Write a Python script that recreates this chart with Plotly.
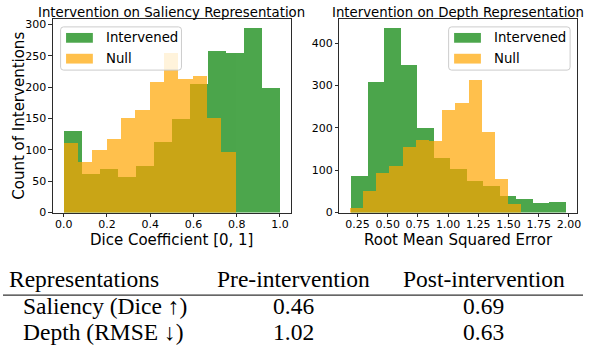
import numpy as np
import plotly.graph_objects as go

# Saliency (Dice coefficient) histograms, 12 equal-width bins per series
sal_intervened_counts = [130, 61, 69, 57, 74, 113, 149, 205, 257, 254, 294, 199]
sal_intervened_range = (0.0, 1.0)
sal_null_counts = [111, 81, 100, 117, 150, 164, 208, 255, 213, 218, 151, 96]
sal_null_range = (0.0, 0.795)

# Depth (RMSE) histograms, 13 equal-width bins per series
dep_intervened_counts = [86, 309, 435, 349, 200, 129, 103, 74, 63, 40, 31, 23, 26]
dep_intervened_range = (0.20, 1.975)
dep_null_counts = [11, 51, 93, 110, 155, 172, 169, 243, 258, 312, 191, 80, 21]
dep_null_range = (0.19, 1.61)

series_names = ["Intervened", "Null"]
series_colors = ["#008000", "#FFA500"]
series_rgba = ["rgba(0,128,0,0.7)", "rgba(255,165,0,0.7)"]

sal_xticks = [0.0, 0.2, 0.4, 0.6, 0.8, 1.0]
sal_yticks = [0, 50, 100, 150, 200, 250, 300]
dep_xticks = [0.25, 0.50, 0.75, 1.00, 1.25, 1.50, 1.75, 2.00]
dep_yticks = [0, 100, 200, 300, 400]

titles = ["Intervention on Saliency Representation", "Intervention on Depth Representation"]
xlabels = ["Dice Coefficient [0, 1]", "Root Mean Squared Error"]
ylabel = "Count of Interventions"

table_header = ["Representations", "Pre-intervention", "Post-intervention"]
table_rows = [
    ["Saliency (Dice \u2191)", "0.46", "0.69"],
    ["Depth (RMSE \u2193)", "1.02", "0.63"],
]

W, H = 589, 354
SANS = "DejaVu Sans"
SERIF = "'Liberation Serif', 'Times New Roman', Times, serif"
FRAME = "#2b2b2b"


def fx(p):
    return p / W


def fy(p):
    return 1 - p / H


def hist_bars(counts, rng, color, name, xa, ya):
    edges = np.linspace(rng[0], rng[1], len(counts) + 1)
    centers = (edges[:-1] + edges[1:]) / 2
    widths = np.diff(edges)
    return go.Bar(x=centers, y=counts, width=widths, marker=dict(color=color, line=dict(width=0)),
                  opacity=0.7, name=name, xaxis=xa, yaxis=ya, showlegend=False)


def padded(ranges, frac=0.05):
    lo = min(r[0] for r in ranges)
    hi = max(r[1] for r in ranges)
    pad = (hi - lo) * frac
    return [lo - pad, hi + pad]


fig = go.Figure()
panels = [
    (sal_intervened_counts, sal_intervened_range, sal_null_counts, sal_null_range, "x", "y"),
    (dep_intervened_counts, dep_intervened_range, dep_null_counts, dep_null_range, "x2", "y2"),
]
for gc, gr, nc, nr, xa, ya in panels:
    fig.add_trace(hist_bars(gc, gr, series_colors[0], series_names[0], xa, ya))
    fig.add_trace(hist_bars(nc, nr, series_colors[1], series_names[1], xa, ya))

# axes frame geometry (pixels)
ax_left = [(53.3, 292.7), (341.7, 580.7)]
ax_top, ax_bottom = 18.5, 216.5

axis_common = dict(showline=True, mirror=True, linecolor=FRAME, linewidth=1,
                   ticks="outside", ticklen=3.5, tickwidth=1, tickcolor=FRAME,
                   tickfont=dict(family=SANS, size=11, color="black"),
                   showgrid=False, zeroline=False)

ydom = [fy(ax_bottom), fy(ax_top)]
fig.update_layout(
    xaxis=dict(domain=[fx(ax_left[0][0]), fx(ax_left[0][1])],
               range=padded([sal_intervened_range, sal_null_range]),
               tickvals=sal_xticks, tickformat=".1f", anchor="y", ticklabelstandoff=-2,
               **axis_common),
    yaxis=dict(domain=ydom, range=[0, max(sal_intervened_counts + sal_null_counts) * 1.05],
               tickvals=sal_yticks, anchor="x", **axis_common),
    xaxis2=dict(domain=[fx(ax_left[1][0]), fx(ax_left[1][1])],
                range=padded([dep_intervened_range, dep_null_range]),
                tickvals=dep_xticks, tickformat=".2f", anchor="y2", ticklabelstandoff=-2,
                **axis_common),
    yaxis2=dict(domain=ydom, range=[0, max(dep_intervened_counts + dep_null_counts) * 1.05],
                tickvals=dep_yticks, anchor="x2", **axis_common),
    barmode="overlay",
    bargap=0,
    width=W, height=H,
    margin=dict(l=0, r=0, t=0, b=0),
    paper_bgcolor="white",
    plot_bgcolor="white",
    showlegend=False,
)

annotations = []
shapes = []

# titles and axis labels
for i, (l, r) in enumerate(ax_left):
    cx = (l + r) / 2
    annotations.append(dict(text=titles[i], x=fx(cx), y=fy(11.5), xref="paper", yref="paper",
                            xanchor="center", yanchor="middle", showarrow=False,
                            font=dict(family=SANS, size=13.3, color="black")))
    annotations.append(dict(text=xlabels[i], x=fx(cx), y=fy(244.5), xref="paper", yref="paper",
                            xanchor="center", yanchor="middle", showarrow=False, borderpad=0,
                            font=dict(family=SANS, size=15, color="black")))
annotations.append(dict(text=ylabel, x=fx(19), y=fy((ax_top + ax_bottom) / 2), xref="paper",
                        yref="paper", xanchor="center", yanchor="middle", showarrow=False,
                        textangle=-90, font=dict(family=SANS, size=15, color="black")))


def rounded_rect(x0, y0, x1, y1, r):
    X0, X1 = fx(x0), fx(x1)
    Y0, Y1 = fy(y0), fy(y1)
    rx, ry = r / W, r / H
    return (f"M {X0 + rx},{Y0} L {X1 - rx},{Y0} Q {X1},{Y0} {X1},{Y0 - ry} "
            f"L {X1},{Y1 + ry} Q {X1},{Y1} {X1 - rx},{Y1} L {X0 + rx},{Y1} "
            f"Q {X0},{Y1} {X0},{Y1 + ry} L {X0},{Y0 - ry} Q {X0},{Y0} {X0 + rx},{Y0} Z")


# legend boxes, one per panel
legend_boxes = [(61.0, 26.5, 182.7, 70.7), (451.7, 26.5, 574.0, 70.7)]
for bx0, by0, bx1, by1 in legend_boxes:
    shapes.append(dict(type="path", path=rounded_rect(bx0, by0, bx1, by1, 3),
                       xref="paper", yref="paper", fillcolor="rgba(255,255,255,0.8)",
                       line=dict(color="#cccccc", width=1), layer="above"))
    px0 = bx0 + 5.5
    for k, (name, rgba) in enumerate(zip(series_names, series_rgba)):
        cy = 37.7 + k * 21.3
        shapes.append(dict(type="rect", x0=fx(px0), x1=fx(px0 + 27), y0=fy(cy + 5), y1=fy(cy - 5),
                           xref="paper", yref="paper", fillcolor=rgba, line=dict(width=0),
                           layer="above"))
        annotations.append(dict(text=name, x=fx(px0 + 38), y=fy(cy), xref="paper", yref="paper",
                                xanchor="left", yanchor="middle", showarrow=False,
                                font=dict(family=SANS, size=13.3, color="black")))

# results table below the histograms
tfont = dict(family=SERIF, size=23.5, color="black")
col_x = [None, 295.5, 487.0]
header_y = 284.5
row_y = [312.5, 339.0]
annotations.append(dict(text=table_header[0], x=fx(6.7), y=fy(header_y), xref="paper",
                        yref="paper", xanchor="left", yanchor="middle", showarrow=False, font=tfont))
for j in (1, 2):
    annotations.append(dict(text=table_header[j], x=fx(col_x[j]), y=fy(header_y), xref="paper",
                            yref="paper", xanchor="center", yanchor="middle", showarrow=False,
                            font=tfont))
for r, row in enumerate(table_rows):
    annotations.append(dict(text=row[0], x=fx(20.7), y=fy(row_y[r]), xref="paper", yref="paper",
                            xanchor="left", yanchor="middle", showarrow=False, font=tfont))
    for j in (1, 2):
        annotations.append(dict(text=row[j], x=fx(col_x[j]), y=fy(row_y[r]), xref="paper",
                                yref="paper", xanchor="center", yanchor="middle",
                                showarrow=False, font=tfont))
shapes.append(dict(type="line", x0=fx(3), x1=fx(587), y0=fy(301), y1=fy(301), xref="paper",
                   yref="paper", line=dict(color="#333333", width=1.3)))

fig.update_layout(annotations=annotations, shapes=shapes)
fig.write_html("out.html")
